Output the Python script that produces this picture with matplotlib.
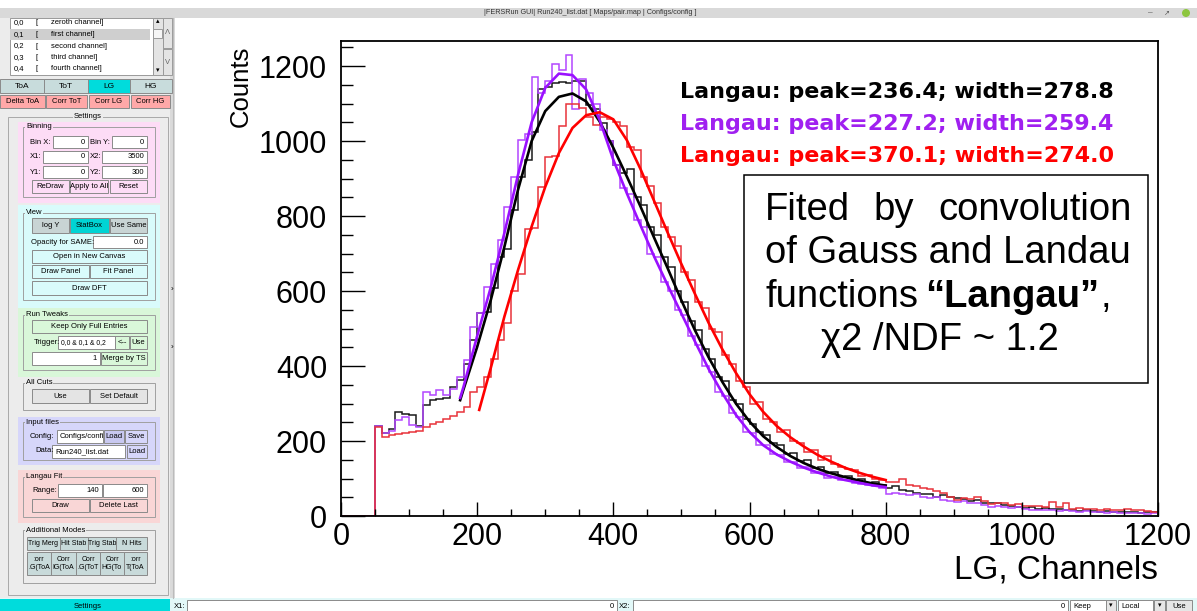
import matplotlib
matplotlib.use('Agg')
import matplotlib.pyplot as plt
from matplotlib.patches import Rectangle, Circle
from matplotlib.ticker import MultipleLocator

plt.rcParams['font.family'] = ['Liberation Sans', 'DejaVu Sans']

# LG spectra, 10 channels per bin from 0 to 1200
bin_edges = list(range(0, 1201, 10))

black_counts = [
    0, 0, 0, 0, 0, 240, 221, 232, 278, 272,
    269, 240, 296, 309, 312, 314, 343, 364, 405, 470,
    541, 545, 607, 690, 712, 815, 905, 950, 1025, 1140,
    1145, 1154, 1158, 1154, 1160, 1160, 1096, 1085, 1047, 1000,
    935, 915, 925, 850, 830, 770, 750, 690, 665, 600,
    570, 520, 495, 445, 420, 370, 360, 310, 300, 260,
    245, 225, 215, 195, 190, 165, 168, 148, 150, 128,
    130, 115, 118, 105, 108, 95, 98, 88, 90, 82,
    76, 80, 70, 68, 62, 60, 58, 52, 55, 50,
    48, 45, 40, 42, 36, 34, 35, 30, 27, 25,
    22, 24, 20, 21, 18, 18, 16, 17, 14, 15,
    14, 12, 13, 11, 12, 10, 11, 9, 10, 12]

violet_counts = [
    0, 0, 0, 0, 0, 240, 222, 228, 256, 265,
    243, 238, 332, 322, 336, 322, 340, 371, 416, 505,
    541, 611, 673, 736, 825, 905, 1003, 1020, 1170, 1127,
    1160, 1205, 1190, 1230, 1085, 1165, 1127, 1100, 1030, 1000,
    935, 875, 860, 790, 770, 700, 690, 625, 600, 550,
    535, 480, 455, 400, 385, 330, 320, 275, 265, 225,
    222, 190, 190, 165, 162, 145, 145, 128, 130, 115,
    118, 102, 104, 95, 96, 88, 86, 82, 80, 76,
    60, 62, 58, 55, 58, 52, 48, 50, 44, 40,
    38, 40, 36, 34, 30, 25, 26, 24, 22, 24,
    18, 16, 17, 15, 16, 14, 15, 13, 12, 13,
    11, 10, 9, 10, 8, 9, 7, 8, 6, 7]

red_counts = [
    0, 0, 0, 0, 0, 238, 212, 216, 220, 222,
    224, 226, 238, 246, 252, 260, 268, 278, 292, 332,
    345, 370, 420, 470, 515, 600, 645, 765, 768, 878,
    958, 960, 1040, 1100, 1100, 1087, 1065, 1043, 1065, 1060,
    1050, 1040, 985, 975, 905, 880, 835, 770, 745, 720,
    650, 630, 570, 555, 500, 490, 430, 405, 360, 345,
    300, 305, 260, 250, 225, 230, 200, 195, 170, 175,
    150, 160, 140, 130, 125, 122, 108, 110, 100, 96,
    92, 90, 98, 84, 80, 76, 72, 68, 62, 50,
    43, 47, 45, 51, 40, 32, 34, 35, 30, 31,
    28, 26, 27, 25, 38, 25, 34, 18, 21, 19,
    18, 16, 18, 17, 16, 18, 15, 15, 14, 12]

# Langau fit curves
black_fit_x = [175] + list(range(180, 801, 20))
black_fit_y = [309, 338, 451, 576, 718, 870, 1000, 1080, 1118, 1127, 1106,
               1052, 982, 905, 825, 742, 660, 575, 495, 423, 358,
               300, 252, 213, 184, 160, 141, 126, 114, 104, 95, 87, 81]
violet_fit_x = [175] + list(range(180, 801, 20))
violet_fit_y = [315, 345, 480, 610, 755, 910, 1050, 1142, 1180, 1176, 1138,
                1056, 950, 860, 775, 692, 615, 540, 465, 392, 328,
                270, 224, 189, 164, 145, 129, 116, 105, 96, 89, 82, 77]
red_fit_x = [203] + list(range(220, 801, 20))
red_fit_y = [283, 395, 532, 656, 772, 878, 968, 1035, 1069, 1077,
             1058, 1002, 925, 840, 755, 672, 592, 515, 445, 382,
             325, 278, 240, 210, 185, 163, 145, 129, 116, 105, 96]

fit_labels = ['Langau: peak=236.4; width=278.8',
              'Langau: peak=227.2; width=259.4',
              'Langau: peak=370.1; width=274.0']

x_ticks = [0, 200, 400, 600, 800, 1000, 1200]
y_ticks = [0, 200, 400, 600, 800, 1000, 1200]

channel_rows = [('0,0', 'zeroth channel]'), ('0,1', 'first channel]'),
                ('0,2', 'second channel]'), ('0,3', 'third channel]'),
                ('0,4', 'fourth channel]')]

W, H = 1197, 611
fig = plt.figure(figsize=(W / 100, H / 100), dpi=100)

# whole window drawn in pixel units
gui = fig.add_axes([0, 0, 1, 1], zorder=0)
gui.set_xlim(0, W)
gui.set_ylim(H, 0)
gui.axis('off')


def rect(x0, y0, x1, y1, fc, ec='none', lw=0.7):
    gui.add_patch(Rectangle((x0, y0), x1 - x0, y1 - y0, facecolor=fc,
                            edgecolor=ec, linewidth=lw))


def label(x, y, s, size=5.5, ha='left', **kw):
    return gui.text(x, y, s, fontsize=size, ha=ha, va='center', **kw)


def button(x0, y0, x1, y1, s, fc='#e6e6e6', size=5.5):
    rect(x0, y0, x1, y1, fc, '#8a8a8a')
    label((x0 + x1) / 2, (y0 + y1) / 2, s, size, 'center', linespacing=1.3)


def entry(x0, y0, x1, y1, s, ha='right', size=5.5):
    rect(x0, y0, x1, y1, 'white', '#8a8a8a')
    if ha == 'right':
        label(x1 - 3, (y0 + y1) / 2, s, size, ha='right')
    else:
        label(x0 + 3, (y0 + y1) / 2, s, size)


def group(y0, y1, title, fc=None, bg=None):
    if fc is not None:
        rect(18, bg[0], 160, bg[1], fc)
    rect(23, y0, 155, y1, 'none', '#a0a0a0')
    label(26, y0, title, bbox=dict(facecolor=fc or '#ececec', edgecolor='none', pad=0.6))


# window frame
rect(0, 0, W, 9, 'white')
rect(0, 8, W, 18, '#d9d9d9')
label(590, 13, '|FERSRun GUI| Run240_list.dat [ Maps/pair.map | Configs/config ]',
      5.2, 'center', color='#333333')
label(1150, 13, '–', 6, 'center', color='#555555')
label(1167, 13, '↗', 5, 'center', color='#555555')
gui.add_patch(Circle((1186, 13), 4, facecolor='#8dc63f', edgecolor='none'))
rect(172, 18, W, 598, 'white')
gui.plot([173, 173], [18, 598], color='#bbbbbb', lw=0.8)

# settings panel
rect(0, 18, 170, 598, '#ececec')
rect(170, 18, 175, 598, '#dadada')
label(172, 289, '›', 6, 'center')
label(172, 347, '›', 6, 'center')

rect(10, 18, 153, 75, 'white', '#9a9a9a')
rect(10, 29, 150, 40, '#cfcfcf')
for i, (num, name) in enumerate(channel_rows):
    yy = 23 + 11.5 * i
    label(14, yy, num)
    label(36, yy, '[')
    label(51, yy, name)
rect(153, 18, 163, 75, '#e4e4e4', '#9a9a9a')
rect(153, 29, 162, 38, '#f6f6f6', '#9a9a9a')
label(158, 22, '▴', 5, 'center')
label(158, 71, '▾', 5, 'center')
rect(163, 18, 172, 48, '#e4e4e4', '#9a9a9a')
rect(163, 49, 172, 75, '#e4e4e4', '#9a9a9a')
label(167.5, 33, 'Λ', 5.5, 'center', color='#666666')
label(167.5, 62, 'V', 5.5, 'center', color='#666666')

for x0, x1, s, fc in [(0, 44, 'ToA', '#c8dcdc'), (44, 88, 'ToT', '#c8dcdc'),
                      (88, 130, 'LG', '#00dcdc'), (130, 172, 'HG', '#c8dcdc')]:
    button(x0, 79, x1, 93, s, fc, 6)
for x0, x1, s in [(0, 45, 'Delta ToA'), (46, 87, 'Corr ToT'),
                  (89, 129, 'Corr LG'), (131, 170, 'Corr HG')]:
    button(x0, 95, x1, 108, s, '#ffa8a8', 5.5)

rect(8, 117, 168, 595, 'none', '#a8a8a8')
label(88, 117, 'Settings', 5.5, 'center', bbox=dict(facecolor='#ececec', edgecolor='none', pad=0.6))

# Binning
group(127, 197, 'Binning', '#fddcf6', (122, 203))
label(30, 142, 'Bin X:')
entry(53, 136, 88, 148, '0')
label(90, 142, 'Bin Y:')
entry(112, 136, 147, 148, '0')
label(30, 157, 'X1:')
entry(43, 151, 88, 163, '0')
label(90, 157, 'X2:')
entry(102, 151, 147, 163, '3500')
label(30, 172, 'Y1:')
entry(43, 166, 88, 178, '0')
label(90, 172, 'Y2:')
entry(102, 166, 147, 178, '300')
button(32, 180, 69, 193, 'ReDraw', '#fddcf6')
button(70, 180, 108, 193, 'Apply to All', '#fddcf6')
button(110, 180, 147, 193, 'Reset', '#fddcf6')

# View
group(213, 300, 'View', '#d9fbfb', (205, 308))
button(32, 218, 69, 233, 'log Y', '#c8d4d4')
button(70, 218, 109, 233, 'StatBox', '#00d4d4')
button(110, 218, 147, 233, 'Use Same', '#c8d4d4')
label(31, 242, 'Opacity for SAME:')
entry(93, 236, 147, 248, '0.0')
button(32, 250, 147, 263, 'Open in New Canvas', '#d9fbfb')
button(32, 265, 89, 278, 'Draw Panel', '#d9fbfb')
button(90, 265, 147, 278, 'Fit Panel', '#d9fbfb')
button(32, 281, 147, 295, 'Draw DFT', '#d9fbfb')

# Run Tweaks
group(315, 370, 'Run Tweaks', '#d9f7d9', (308, 377))
button(32, 320, 147, 333, 'Keep Only Full Entries', '#d9f7d9')
label(34, 342, 'Trigger:')
entry(58, 336, 115, 349, '0,0 & 0,1 & 0,2', 'left', 4.9)
button(115, 336, 129, 349, '<--', '#d9f7d9')
button(130, 336, 147, 349, 'Use', '#d9f7d9')
entry(32, 352, 100, 365, '1')
button(101, 352, 147, 365, 'Merge by TS', '#d9f7d9')

# All Cuts
group(383, 410, 'All Cuts')
button(32, 389, 89, 403, 'Use', '#e4e4e4')
button(90, 389, 147, 403, 'Set Default', '#e4e4e4')

# Input files
group(422, 460, 'Input files', '#d6d6fa', (417, 465))
label(30, 436, 'Config:')
entry(57, 430, 103, 443, 'Configs/confi', 'left')
button(104, 430, 124, 443, 'Load', '#c8c8f0')
button(125, 430, 147, 443, 'Save', '#d6d6fa')
label(35, 451, 'Data:')
entry(52, 445, 125, 458, 'Run240_list.dat', 'left')
button(127, 445, 147, 458, 'Load', '#d6d6fa')

# Langau Fit
group(477, 517, 'Langau Fit', '#f9d6d6', (470, 523))
label(32, 490, 'Range:')
entry(58, 484, 102, 497, '140')
entry(103, 484, 147, 497, '600')
button(32, 499, 89, 512, 'Draw', '#f9d6d6')
button(90, 499, 147, 512, 'Delete Last', '#f9d6d6')

# Additional Modes
group(530, 583, 'Additional Modes')
for x0, x1, s in [(27, 60, 'Trig Merg'), (60, 88, 'Hit Stab'),
                  (88, 116, 'Trig Stab'), (116, 147, 'N Hits')]:
    button(x0, 537, x1, 550, s, '#c8dada', 5.0)
for x0, x1, s in [(27, 51, ':orr\n.G(ToA'), (51, 76, 'Corr\nIG(ToA'),
                  (76, 100, 'Corr\n.G(ToT'), (100, 124, 'Corr\nHG(To'),
                  (124, 147, ':orr\nT(ToA')]:
    button(x0, 552, x1, 575, s, '#c8dada', 5.0)

# status bar
rect(0, 598, W, H, '#e2f8f8')
rect(0, 599, 170, H, '#00dcdc')
label(88, 606, 'Settings', 5.5, 'center')
label(174, 606, 'X1:')
entry(187, 600, 617, 612, '0')
label(619, 606, 'X2:')
entry(633, 600, 1068, 612, '0')
entry(1070, 600, 1106, 612, 'Keep', 'left')
button(1106, 600, 1116, 612, '▾', '#e6e6e6', 5)
entry(1118, 600, 1153, 612, 'Local', 'left')
button(1154, 600, 1165, 612, '▾', '#e6e6e6', 5)
button(1166, 600, 1192, 612, 'Use', '#e6e6e6')

# spectrum pad
ax = fig.add_axes([341 / W, (H - 516) / H, 817 / W, 475 / H], zorder=2)
ax.patch.set_alpha(0)
ax.stairs(black_counts, bin_edges, color='#1a1a1a', lw=1.1, baseline=None)
ax.stairs(violet_counts, bin_edges, color='#b347ff', lw=1.1, baseline=None)
ax.stairs(red_counts, bin_edges, color='#e8333a', lw=1.1, baseline=None)
ax.plot(black_fit_x, black_fit_y, color='black', lw=1.9)
ax.plot(violet_fit_x, violet_fit_y, color='#9a10ff', lw=1.9)
ax.plot(red_fit_x, red_fit_y, color='#ff0000', lw=1.9)

ax.set_xlim(0, 1200)
ax.set_ylim(0, 1267)
ax.set_xticks(x_ticks)
ax.set_yticks(y_ticks)
ax.xaxis.set_minor_locator(MultipleLocator(50))
ax.yaxis.set_minor_locator(MultipleLocator(50))
ax.tick_params(axis='x', which='major', direction='in', length=10, width=1, labelsize=22, pad=4)
ax.tick_params(axis='x', which='minor', direction='in', length=5, width=1)
ax.tick_params(axis='y', which='major', direction='in', length=17, width=1, labelsize=22, pad=10)
ax.tick_params(axis='y', which='minor', direction='in', length=8.5, width=1)
for sp in ax.spines.values():
    sp.set_linewidth(1.3)

gui.text(241, 46, 'Counts', fontsize=18.5, rotation=90, ha='center', va='top')
gui.text(1158, 570, 'LG, Channels', fontsize=24, ha='right', va='center')

for i, (s, c) in enumerate(zip(fit_labels, ['black', '#a020f0', '#ff0000'])):
    gui.text(680, 92 + 32 * i, s, fontsize=16, fontweight='bold', color=c,
             family='DejaVu Sans', ha='left', va='center')

# note box
rect(744, 175, 1148, 383, 'white', 'black', 1.1)
note = 27.5
gui.text(765, 210, 'Fited', fontsize=note, ha='left', va='center')
gui.text(894, 210, 'by', fontsize=note, ha='center', va='center')
gui.text(1132, 210, 'convolution', fontsize=note, ha='right', va='center')
gui.text(765, 253, 'of Gauss and Landau', fontsize=note, ha='left', va='center')
gui.text(765, 297, 'functions', fontsize=note, ha='left', va='center')
gui.text(925, 297, '“Langau”', fontsize=note, fontweight='bold', ha='left', va='center')
gui.text(1101, 297, ',', fontsize=note, ha='left', va='center')
gui.text(940, 340, 'χ2 /NDF ~ 1.2', fontsize=note, ha='center', va='center')

fig.savefig('out.png', dpi=100)
